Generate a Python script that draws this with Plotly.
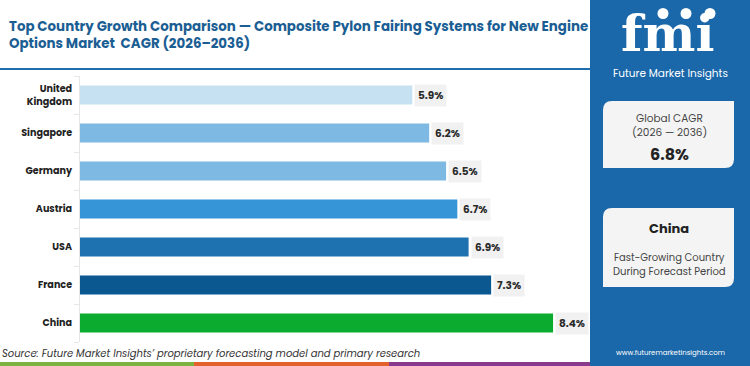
import plotly.graph_objects as go

countries = ["United Kingdom", "Singapore", "Germany", "Austria", "USA", "France", "China"]
country_labels = ["United<br>Kingdom", "Singapore", "Germany", "Austria", "USA", "France", "China"]
cagr = [5.9, 6.2, 6.5, 6.7, 6.9, 7.3, 8.4]
bar_colors = ["#c5e1f2", "#7db9e2", "#7db9e2", "#3595d7", "#1f72b0", "#0b5790", "#0aab2e"]
value_labels = ["5.9%", "6.2%", "6.5%", "6.7%", "6.9%", "7.3%", "8.4%"]

title_text = "Top Country Growth Comparison — Composite Pylon Fairing Systems for New Engine<br>Options Market  CAGR (2026–2036)"
global_cagr = "6.8%"
fastest = "China"
source_text = "Source: Future Market Insights’ proprietary forecasting model and primary research"

FONT = "Poppins, Lato, sans-serif"
PANEL = "#1a67a9"

fig = go.Figure()
fig.add_trace(go.Bar(
    x=cagr, y=countries, orientation="h",
    marker=dict(color=bar_colors, line=dict(width=0)),
    hoverinfo="skip",
))

for c, v, t in zip(countries, cagr, value_labels):
    fig.add_annotation(x=v, y=c, text="<b>" + t + "</b>", showarrow=False,
                       xanchor="left", xshift=2, bgcolor="#f1f1f1", borderpad=3,
                       font=dict(family=FONT, size=10.5, color="#2a2a2a"))

fig.update_layout(
    width=750, height=366,
    margin=dict(l=80, r=162, t=76, b=24, autoexpand=False),
    paper_bgcolor="white", plot_bgcolor="white",
    showlegend=False, bargap=0.5,
    xaxis=dict(range=[0, 9.02], showgrid=False, zeroline=False, showticklabels=False,
               showline=False, fixedrange=True, automargin=False),
    yaxis=dict(categoryorder="array", categoryarray=countries, autorange="reversed",
               tickmode="array", tickvals=countries, ticktext=["<b>" + s + "</b>" for s in country_labels],
               tickfont=dict(family=FONT, size=9.6, color="#222"),
               showline=True, linecolor="#e6e6e6", linewidth=1,
               ticks="outside", ticklen=5, tickcolor="#e6e6e6", tickson="boundaries",
               ticklabelstandoff=5, showgrid=False, automargin=False, fixedrange=True),
    font=dict(family=FONT),
)

W, H = 508, 266


def px(x):
    return (x - 80) / W


def py(y):
    return (342 - y) / H


# title
fig.add_annotation(xref="paper", yref="paper", x=px(7), y=py(15), xanchor="left", yanchor="top",
                   text="<b>" + title_text + "</b>", showarrow=False, align="left",
                   font=dict(family=FONT, size=13.4, color="#1b5e94"))

shapes = []
# title underline
shapes.append(dict(type="line", xref="paper", yref="paper", x0=px(0), x1=px(590),
                   y0=py(69), y1=py(69), line=dict(color="#1f6fae", width=2)))
# right panel
shapes.append(dict(type="rect", xref="paper", yref="paper", x0=px(590), x1=px(750),
                   y0=py(366), y1=py(0), fillcolor=PANEL, line=dict(width=0), layer="below"))
# bottom strip
for x0, x1, col in [(0, 194, "#7cb342"), (194, 389, "#e4602c"), (389, 590, "#8a3a8c")]:
    shapes.append(dict(type="rect", xref="paper", yref="paper", x0=px(x0), x1=px(x1),
                       y0=py(366), y1=py(362), fillcolor=col, line=dict(width=0)))


def rbox(x0, y0, x1, y1, r=9):
    X0, X1 = px(x0), px(x1)
    Y0, Y1 = py(y1), py(y0)
    rx, ry = r / W, r / H
    path = (f"M {X0+rx},{Y1} L {X1},{Y1} L {X1},{Y0+ry} Q {X1},{Y0} {X1-rx},{Y0} "
            f"L {X0},{Y0} L {X0},{Y1-ry} Q {X0},{Y1} {X0+rx},{Y1} Z")
    return dict(type="path", xref="paper", yref="paper", path=path,
                fillcolor="#f4f4f4", line=dict(width=0))


shapes.append(rbox(603, 101, 734, 168))
shapes.append(rbox(603, 208, 734, 287))

# logo dots
for cx in [663, 686, 710]:
    shapes.append(dict(type="circle", xref="paper", yref="paper",
                       x0=px(cx - 5.5), x1=px(cx + 5.5), y0=py(19), y1=py(8),
                       fillcolor="white", line=dict(width=0)))

fig.update_layout(shapes=shapes)


def txt(x, y, s, size, color="#333", bold=False, italic=False, xanchor="center", family=FONT):
    if bold:
        s = "<b>" + s + "</b>"
    if italic:
        s = "<i>" + s + "</i>"
    fig.add_annotation(xref="paper", yref="paper", x=px(x), y=py(y), text=s, showarrow=False,
                       xanchor=xanchor, yanchor="middle", borderpad=0,
                       font=dict(family=family, size=size, color=color))


# logo
txt(667, 34, "fmi", 50, color="white", bold=True, family="DejaVu Serif")
txt(670, 73, "Future Market Insights", 10.5, color="white")
# global CAGR box
txt(669, 118, "Global CAGR", 10.5, color="#444")
txt(669, 132, "(2026 — 2036)", 10.5, color="#444")
txt(669, 154, global_cagr, 16, color="#222", bold=True)
# fastest box
txt(669, 228, fastest, 13, color="#222", bold=True)
txt(669, 257, "Fast-Growing Country", 10, color="#444")
txt(669, 271, "During Forecast Period", 10, color="#444")
# website
txt(670, 352, "www.futuremarketinsights.com", 7, color="white")
# source
txt(1, 353, source_text, 10, color="#333", italic=True, xanchor="left")

fig.write_html("out.html", config={"displayModeBar": False},
               post_script="document.body.style.margin='0';document.body.style.overflow='hidden';")
